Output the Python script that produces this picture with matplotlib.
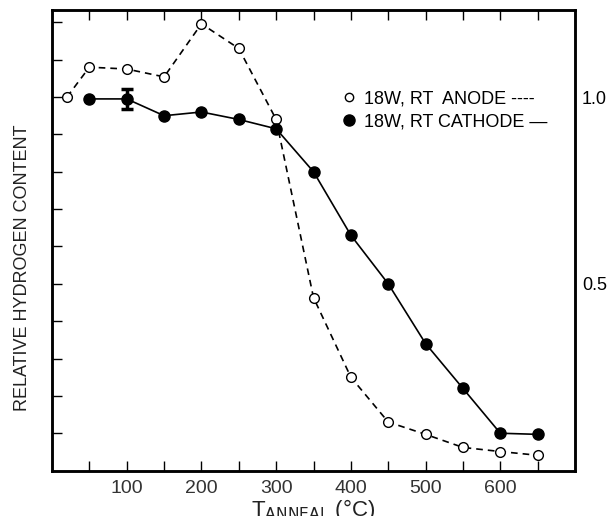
import matplotlib
matplotlib.use("Agg")
import matplotlib.pyplot as plt
from matplotlib.lines import Line2D

plt.rcParams["font.family"] = ["Liberation Sans", "DejaVu Sans"]

# anode (open circles, dashed)
anode_t = [20, 50, 100, 150, 200, 250, 300, 350, 400, 450, 500, 550, 600, 650]
anode_h = [1.0, 1.08, 1.075, 1.054, 1.196, 1.13, 0.94, 0.463, 0.25, 0.13,
           0.097, 0.062, 0.051, 0.041]

# cathode (filled circles, solid)
cathode_t = [50, 100, 150, 200, 250, 300, 350, 400, 450, 500, 550, 600, 650]
cathode_h = [0.995, 0.995, 0.95, 0.96, 0.94, 0.915, 0.80, 0.63, 0.50, 0.34,
             0.22, 0.10, 0.097]
err_t = 100
err_h = 0.995
err_size = 0.027

x_ticks = list(range(50, 700, 50))
x_labels = ["100", "200", "300", "400", "500", "600"]
y_ticks = [0.1 * i for i in range(1, 13)]
right_labels = {"1.0": 1.0, "0.5": 0.5}

fig = plt.figure(figsize=(6.07, 5.16), dpi=100)
ax = fig.add_axes([0.0857, 0.088, 0.8616, 0.8926])

ax.plot(anode_t, anode_h, "k--", lw=1.2, dashes=(4, 3), marker="o",
        mfc="white", mec="black", ms=7, mew=1.0, zorder=3)
ax.plot(cathode_t, cathode_h, "k-", lw=1.2, marker="o", mfc="black",
        mec="black", ms=8, zorder=4)
ax.errorbar([err_t], [err_h], yerr=[err_size], fmt="none", ecolor="black",
            elinewidth=2.5, capsize=4, capthick=2.5, zorder=5)

ax.set_xlim(0, 700)
ax.set_ylim(0, 1.233)

ax.set_xticks(x_ticks)
ax.set_xticklabels([str(t) if str(t) in x_labels else "" for t in x_ticks],
                   fontsize=14, color="#333333")
ax.set_yticks(y_ticks)
ax.set_yticklabels([])
ax.tick_params(direction="in", length=7, width=1.0, top=True, right=True,
               pad=7)

# right side labels
ax2 = ax.twinx()
ax2.set_ylim(ax.get_ylim())
ax2.set_yticks(list(right_labels.values()))
ax2.set_yticklabels(list(right_labels.keys()), fontsize=13)
ax2.tick_params(direction="in", length=0, pad=5)

for a in (ax, ax2):
    for s in a.spines.values():
        s.set_linewidth(1.8)

ax.set_ylabel("RELATIVE HYDROGEN CONTENT", fontsize=13, color="#222222")
ax.yaxis.set_label_coords(-0.04, 0.44)
ax.set_xlabel(r"T$_{\mathrm{ANNEAL}}$ (°C)", fontsize=16, labelpad=0,
              color="#222222")

handles = [
    Line2D([], [], ls="none", marker="o", mfc="white", mec="black", ms=6),
    Line2D([], [], ls="none", marker="o", mfc="black", mec="black", ms=8),
]
ax.legend(handles, ["18W, RT  ANODE ----", "18W, RT CATHODE \u2014"],
          loc="upper left", bbox_to_anchor=(0.52, 0.86), frameon=False,
          fontsize=13, handletextpad=0.3, labelspacing=0.3,
          handlelength=1.0)

plt.savefig("out.png", dpi=100)
plt.close()
